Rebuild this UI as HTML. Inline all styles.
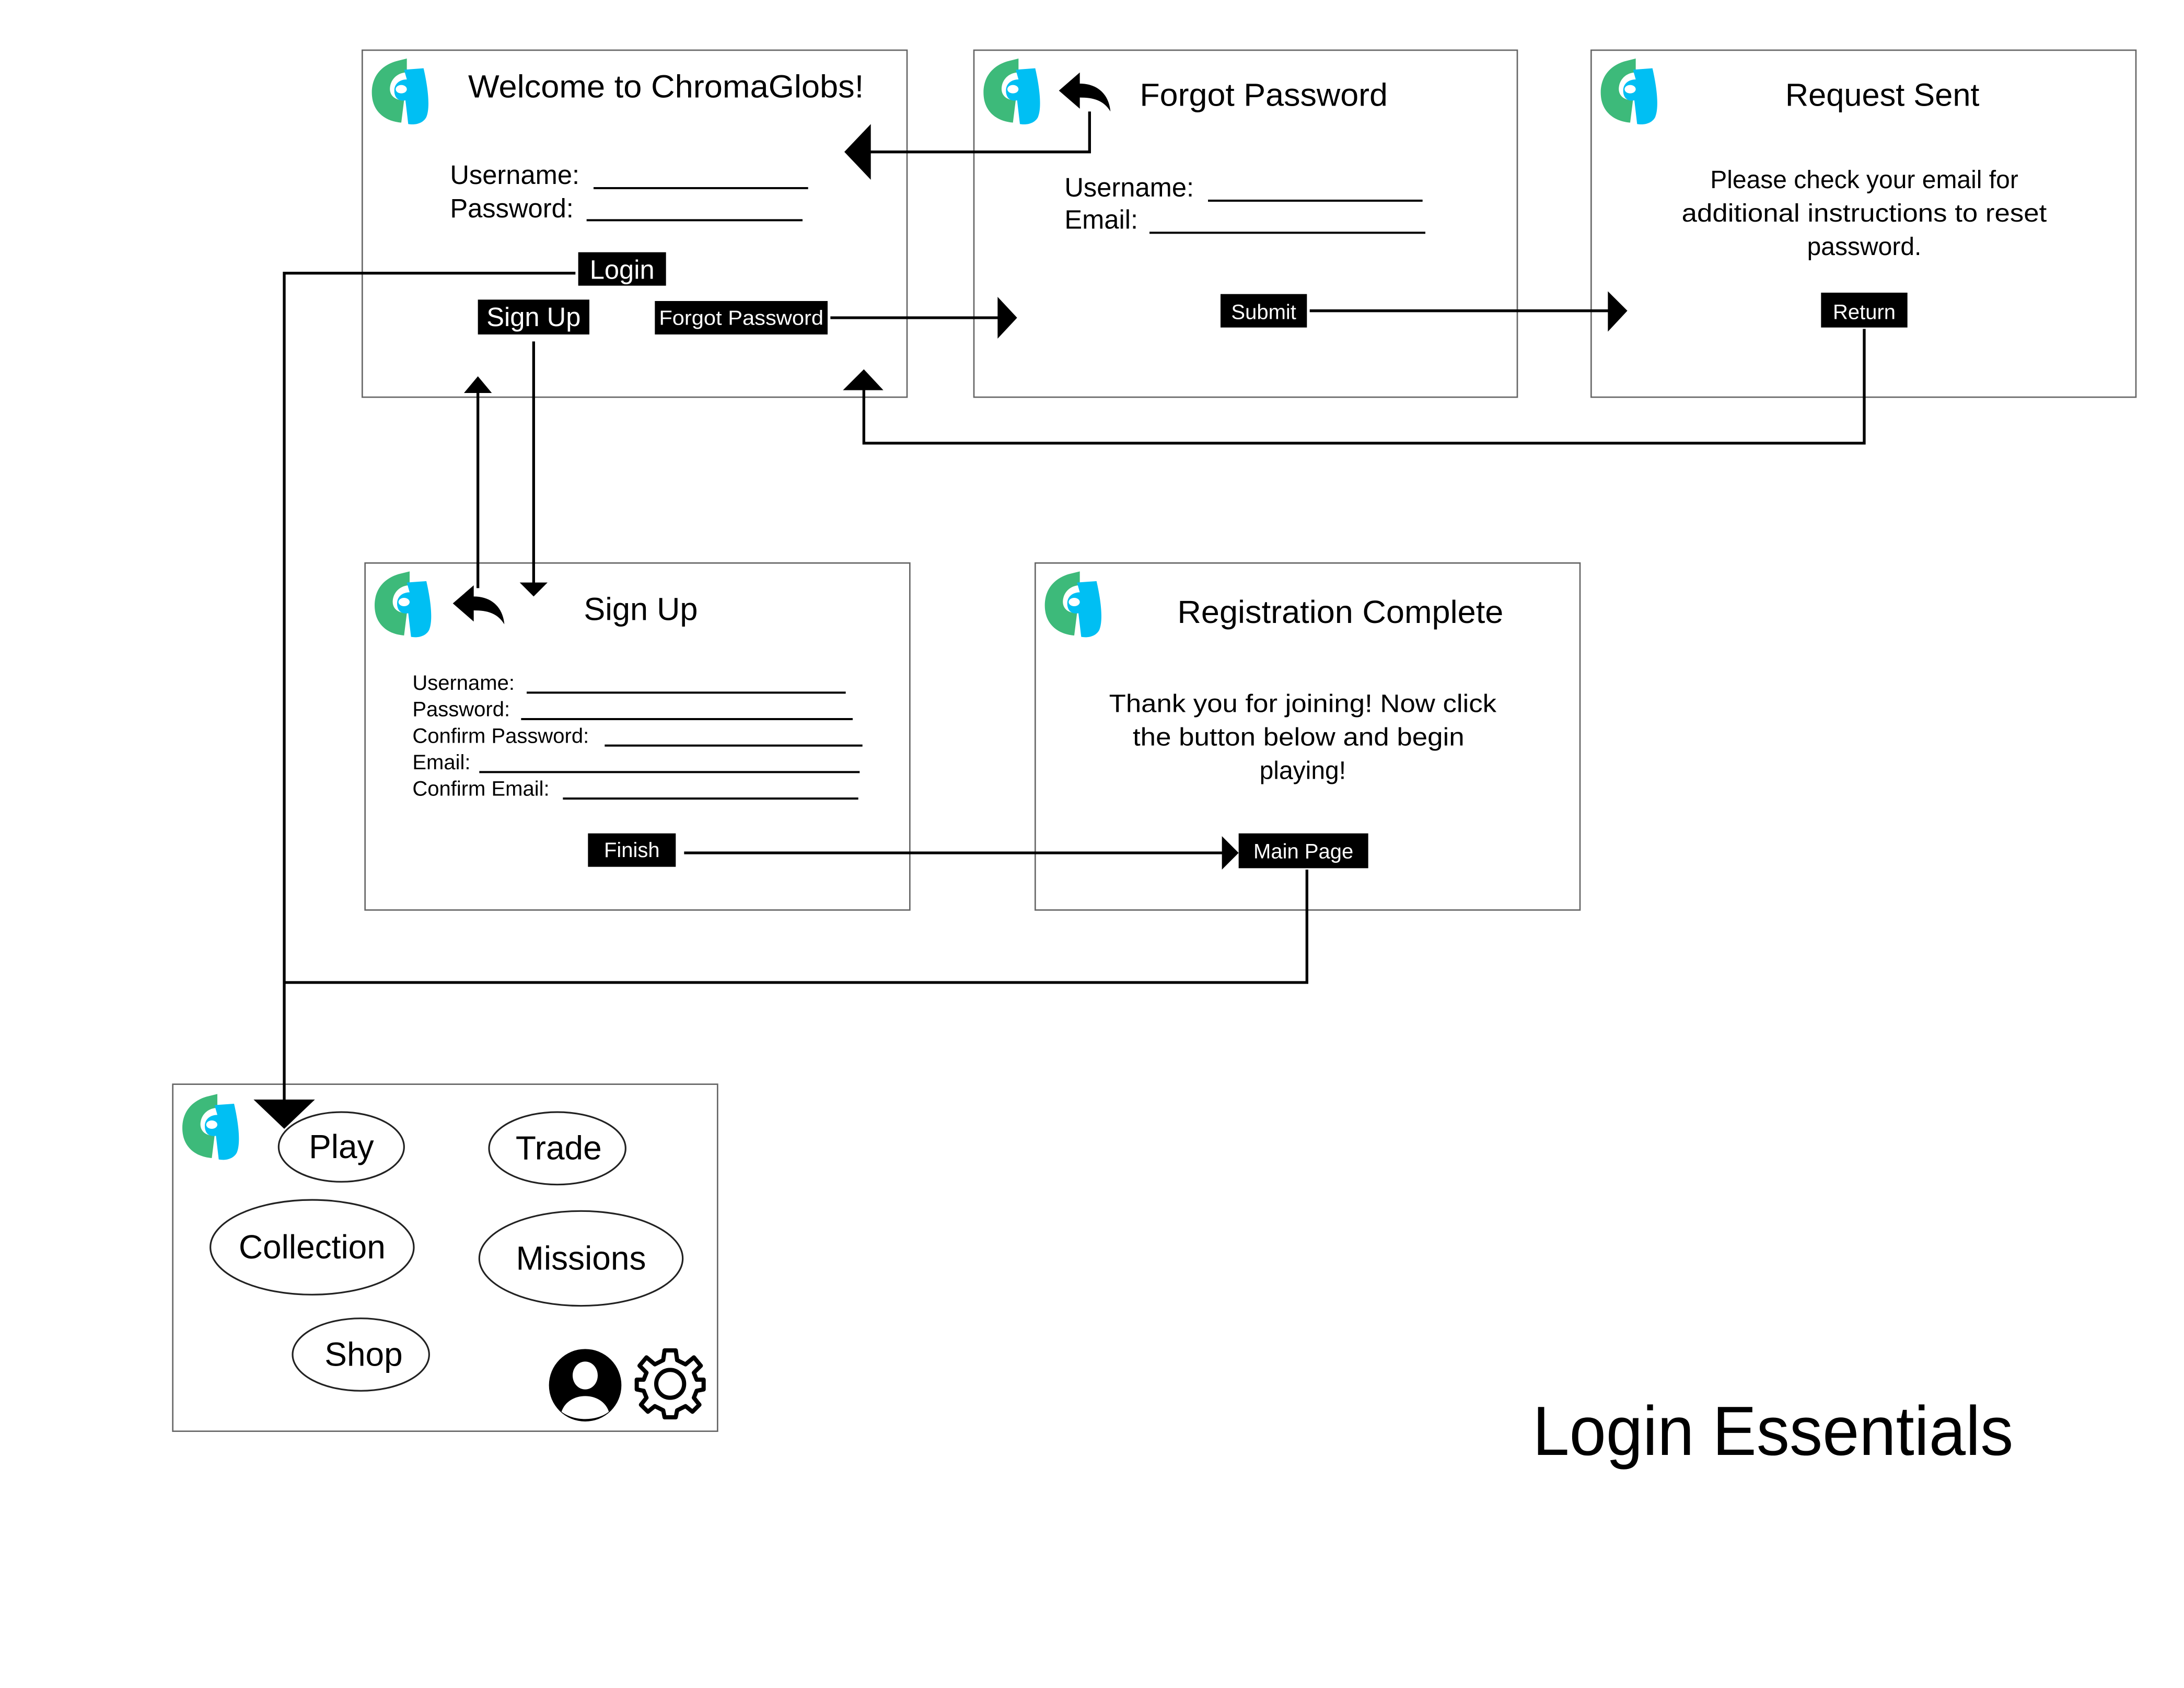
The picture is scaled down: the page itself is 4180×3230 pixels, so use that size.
<!DOCTYPE html>
<html><head><meta charset="utf-8"><style>html,body{margin:0;padding:0;background:#fff}svg{display:block}text{font-family:"Liberation Sans",Arial,sans-serif}</style></head><body>
<svg width="4180" height="3230" viewBox="0 0 1567.5 1211.25" xmlns="http://www.w3.org/2000/svg">
<defs>
<g id="logo">
<path d="M18 2 C5 6 0 16 1 27 C2 38 10 45 22 46 L24 30 C17 30 13 26 14 20 C15 14 20 10 26 10 L26 0 Z" fill="#3dba7a"/>
<path d="M24 8 L38 7 C41 20 43 35 40 42 C38 46 33 48 27 47 L25 30 C20 31 17 28 17 23 C17 18 21 15 26 15 Z" fill="#00bff3"/>
<ellipse cx="22" cy="22" rx="4" ry="3" fill="#fff"/>
</g>
<g id="back">
<path d="M0 13 L15 0 L15 8 C28 8 36 16 37 28 C32 20 25 18 15 18 L15 26 Z" fill="#000"/>
</g>
</defs>
<g fill="#fff" stroke="#666" stroke-width="1">
<rect x="260" y="36" width="391" height="249"/>
<rect x="699" y="36" width="390" height="249"/>
<rect x="1142" y="36" width="391" height="249"/>
<rect x="262" y="404" width="391" height="249"/>
<rect x="743" y="404" width="391" height="249"/>
<rect x="124" y="778" width="391" height="249"/>
</g>
<use href="#logo" x="266" y="42"/><use href="#logo" x="705" y="42"/><use href="#logo" x="1148" y="42"/>
<use href="#logo" x="268" y="410"/><use href="#logo" x="749" y="410"/><use href="#logo" x="130" y="785"/>
<use href="#back" x="760" y="52"/><use href="#back" x="325" y="420"/>
<g font-size="23" fill="#000">
<text x="336" y="70" textLength="284" lengthAdjust="spacingAndGlyphs">Welcome to ChromaGlobs!</text>
<text x="818" y="76" textLength="178" lengthAdjust="spacingAndGlyphs">Forgot Password</text>
<text x="1351" y="76" text-anchor="middle">Request Sent</text>
<text x="419" y="445">Sign Up</text>
<text x="962" y="447" text-anchor="middle" textLength="234" lengthAdjust="spacingAndGlyphs">Registration Complete</text>
</g>
<g font-size="19">
<text x="323" y="132">Username:</text><text x="323" y="156">Password:</text>
<text x="764" y="141">Username:</text><text x="764" y="164">Email:</text>
</g>
<g font-size="18" text-anchor="middle">
<text x="1338" y="135">Please check your email for</text>
<text x="1338" y="159" textLength="262" lengthAdjust="spacingAndGlyphs">additional instructions to reset</text>
<text x="1338" y="183">password.</text>
<text x="935" y="511" textLength="278" lengthAdjust="spacingAndGlyphs">Thank you for joining! Now click</text>
<text x="932" y="535" textLength="238" lengthAdjust="spacingAndGlyphs">the button below and begin</text>
<text x="935" y="559">playing!</text>
</g>
<g font-size="15">
<text x="296" y="495">Username:</text><text x="296" y="514">Password:</text>
<text x="296" y="533">Confirm Password:</text><text x="296" y="552">Email:</text>
<text x="296" y="571">Confirm Email:</text>
</g>
<g stroke="#000" stroke-width="1.5">
<line x1="426" y1="135" x2="580" y2="135"/><line x1="421" y1="158" x2="576" y2="158"/>
<line x1="867" y1="144" x2="1021" y2="144"/><line x1="825" y1="167" x2="1023" y2="167"/>
<line x1="378" y1="497" x2="607" y2="497"/><line x1="374" y1="516" x2="612" y2="516"/>
<line x1="434" y1="535" x2="619" y2="535"/><line x1="344" y1="554" x2="617" y2="554"/>
<line x1="404" y1="573" x2="616" y2="573"/>
</g>
<g fill="#000">
<rect x="415" y="181" width="63" height="24"/><rect x="343" y="215" width="80" height="25"/>
<rect x="470" y="216" width="124" height="24"/><rect x="876" y="211" width="62" height="24"/>
<rect x="1307" y="210" width="62" height="25"/><rect x="422" y="598" width="63" height="24"/>
<rect x="889" y="598" width="93" height="25"/>
</g>
<g fill="#fff" text-anchor="middle">
<text x="446.5" y="200" font-size="19">Login</text>
<text x="383" y="234" font-size="19">Sign Up</text>
<text x="532" y="233" font-size="14.5" textLength="118" lengthAdjust="spacingAndGlyphs">Forgot Password</text>
<text x="907" y="229" font-size="15">Submit</text>
<text x="1338" y="229" font-size="15">Return</text>
<text x="453.5" y="615" font-size="15">Finish</text>
<text x="935.5" y="616" font-size="15">Main Page</text>
</g>
<g fill="none" stroke="#000" stroke-width="2">
<polyline points="782,80 782,109 624,109"/>
<line x1="596" y1="228" x2="717" y2="228"/>
<line x1="940" y1="223" x2="1155" y2="223"/>
<polyline points="1338,236 1338,318 620,318 620,279"/>
<polyline points="413,196 204,196 204,790"/>
<line x1="383" y1="245" x2="383" y2="419"/>
<line x1="343" y1="422" x2="343" y2="281"/>
<line x1="491" y1="612" x2="878" y2="612"/>
<polyline points="938,624 938,705 204,705"/>
</g>
<g fill="#000">
<polygon points="606,109 625,89 625,129"/>
<polygon points="730,228 716,213 716,243"/>
<polygon points="1168,223 1154,209 1154,238"/>
<polygon points="620,265 605,280 634,280"/>
<polygon points="204,810 182,789 226,789"/>
<polygon points="383,428 373,418 393,418"/>
<polygon points="343,270 333,282 353,282"/>
<polygon points="889,612 877,600 877,624"/>
</g>
<g fill="none" stroke="#222" stroke-width="1.2">
<ellipse cx="245" cy="823" rx="45" ry="25"/><ellipse cx="400" cy="824" rx="49" ry="26"/>
<ellipse cx="224" cy="895" rx="73" ry="34"/><ellipse cx="417" cy="903" rx="73" ry="34"/>
<ellipse cx="259" cy="972" rx="49" ry="26"/>
</g>
<g font-size="24" text-anchor="middle">
<text x="245" y="831">Play</text><text x="401" y="832">Trade</text>
<text x="224" y="903">Collection</text><text x="417" y="911">Missions</text>
<text x="261" y="980">Shop</text>
</g>
<ellipse cx="420" cy="994" rx="26" ry="26" fill="#000"/>
<ellipse cx="420" cy="987" rx="9" ry="10" fill="#fff"/>
<path d="M403 1013 C408 998 432 998 437 1013 C428 1020 412 1020 403 1013 Z" fill="#fff"/>
<g transform="translate(481,993)">
<path d="M-4,-24 L4,-24 L5,-17 L11,-14 L17,-19 L22,-13 L17,-8 L19,-3 L24,-3 L24,4 L19,5 L17,10 L21,15 L16,20 L11,16 L5,19 L4,24 L-4,24 L-5,19 L-11,16 L-16,20 L-21,15 L-17,10 L-19,5 L-24,4 L-24,-3 L-19,-3 L-17,-8 L-22,-13 L-17,-19 L-11,-14 L-5,-17 Z" fill="none" stroke="#000" stroke-width="3" stroke-linejoin="round"/>
<circle r="10" fill="none" stroke="#000" stroke-width="3"/>
</g>
<text x="1100" y="1044" font-size="50" textLength="345" lengthAdjust="spacingAndGlyphs">Login Essentials</text>
</svg>
</body></html>
